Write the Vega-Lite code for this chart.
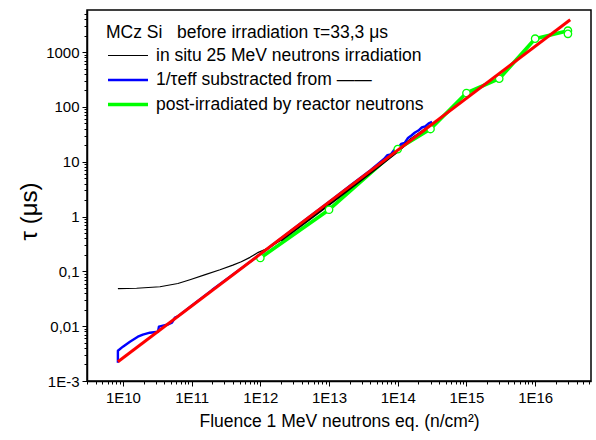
{
  "$schema": "https://vega.github.io/schema/vega-lite/v6.json",
  "width": 504,
  "height": 371,
  "autosize": {"type": "none"},
  "padding": {"left": 87, "top": 10, "right": 5, "bottom": 59},
  "background": "white",
  "config": {
    "font": "Liberation Sans",
    "view": {"stroke": "black", "strokeWidth": 1.5},
    "axis": {
      "labelFont": "Liberation Sans",
      "titleFont": "Liberation Sans",
      "labelColor": "black",
      "titleColor": "black",
      "domainColor": "black",
      "tickColor": "black",
      "domainWidth": 1.5,
      "tickWidth": 1,
      "grid": false,
      "titleFontWeight": "normal"
    }
  },
  "datasets": {
    "curves": [
      {"s": "post-irradiated by reactor neutrons", "f": 1e12, "t": 0.175, "i": 0},
      {"s": "post-irradiated by reactor neutrons", "f": 1e13, "t": 1.33, "i": 1},
      {"s": "post-irradiated by reactor neutrons", "f": 1e14, "t": 17.0, "i": 2},
      {"s": "post-irradiated by reactor neutrons", "f": 3e14, "t": 39.4, "i": 3},
      {"s": "post-irradiated by reactor neutrons", "f": 1e15, "t": 179, "i": 4},
      {"s": "post-irradiated by reactor neutrons", "f": 3e15, "t": 326, "i": 5},
      {"s": "post-irradiated by reactor neutrons", "f": 1e16, "t": 1750, "i": 6},
      {"s": "post-irradiated by reactor neutrons", "f": 3e16, "t": 2450, "i": 7},
      {"s": "post-irradiated by reactor neutrons", "f": 3e16, "t": 2150, "i": 8},

      {"s": "1/τeff substracted from ——", "f": 8.45e9, "t": 0.00216, "i": 0},
      {"s": "1/τeff substracted from ——", "f": 8.45e9, "t": 0.00357, "i": 1},
      {"s": "1/τeff substracted from ——", "f": 1.0e10, "t": 0.00423, "i": 2},
      {"s": "1/τeff substracted from ——", "f": 1.265e10, "t": 0.00521, "i": 3},
      {"s": "1/τeff substracted from ——", "f": 1.65e10, "t": 0.00643, "i": 4},
      {"s": "1/τeff substracted from ——", "f": 1.95e10, "t": 0.0070, "i": 5},
      {"s": "1/τeff substracted from ——", "f": 2.47e10, "t": 0.0076, "i": 6},
      {"s": "1/τeff substracted from ——", "f": 3.24e10, "t": 0.0079, "i": 7},
      {"s": "1/τeff substracted from ——", "f": 3.34e10, "t": 0.0098, "i": 8},
      {"s": "1/τeff substracted from ——", "f": 4.38e10, "t": 0.0106, "i": 9},
      {"s": "1/τeff substracted from ——", "f": 5.18e10, "t": 0.0116, "i": 10},
      {"s": "1/τeff substracted from ——", "f": 5.71e10, "t": 0.0143, "i": 11},
      {"s": "1/τeff substracted from ——", "f": 6.31e10, "t": 0.0151, "i": 12},
      {"s": "1/τeff substracted from ——", "f": 1e11, "t": 0.0236, "i": 13},
      {"s": "1/τeff substracted from ——", "f": 2e11, "t": 0.046, "i": 14},
      {"s": "1/τeff substracted from ——", "f": 3.16e11, "t": 0.070, "i": 15},
      {"s": "1/τeff substracted from ——", "f": 6.31e11, "t": 0.134, "i": 16},
      {"s": "1/τeff substracted from ——", "f": 1e12, "t": 0.205, "i": 17},
      {"s": "1/τeff substracted from ——", "f": 2e12, "t": 0.40, "i": 18},
      {"s": "1/τeff substracted from ——", "f": 3.98e12, "t": 0.77, "i": 19},
      {"s": "1/τeff substracted from ——", "f": 1e13, "t": 1.84, "i": 20},
      {"s": "1/τeff substracted from ——", "f": 2e13, "t": 3.6, "i": 21},
      {"s": "1/τeff substracted from ——", "f": 3.98e13, "t": 6.9, "i": 22},
      {"s": "1/τeff substracted from ——", "f": 6.31e13, "t": 11.2, "i": 23},
      {"s": "1/τeff substracted from ——", "f": 7.08e13, "t": 13.2, "i": 24},
      {"s": "1/τeff substracted from ——", "f": 7.94e13, "t": 13.6, "i": 25},
      {"s": "1/τeff substracted from ——", "f": 8.9e13, "t": 16.5, "i": 26},
      {"s": "1/τeff substracted from ——", "f": 1e14, "t": 17.5, "i": 27},
      {"s": "1/τeff substracted from ——", "f": 1.12e14, "t": 21, "i": 28},
      {"s": "1/τeff substracted from ——", "f": 1.26e14, "t": 22, "i": 29},
      {"s": "1/τeff substracted from ——", "f": 1.41e14, "t": 27, "i": 30},
      {"s": "1/τeff substracted from ——", "f": 1.58e14, "t": 30, "i": 31},
      {"s": "1/τeff substracted from ——", "f": 1.78e14, "t": 34, "i": 32},
      {"s": "1/τeff substracted from ——", "f": 2e14, "t": 37, "i": 33},
      {"s": "1/τeff substracted from ——", "f": 2.24e14, "t": 42, "i": 34},
      {"s": "1/τeff substracted from ——", "f": 2.51e14, "t": 44, "i": 35},
      {"s": "1/τeff substracted from ——", "f": 2.82e14, "t": 50, "i": 36},
      {"s": "1/τeff substracted from ——", "f": 3.16e14, "t": 53, "i": 37},

      {"s": "in situ 25 MeV neutrons irradiation", "f": 8.45e9, "t": 0.0482, "i": 0},
      {"s": "in situ 25 MeV neutrons irradiation", "f": 1.58e10, "t": 0.0492, "i": 1},
      {"s": "in situ 25 MeV neutrons irradiation", "f": 3.46e10, "t": 0.0524, "i": 2},
      {"s": "in situ 25 MeV neutrons irradiation", "f": 6.31e10, "t": 0.060, "i": 3},
      {"s": "in situ 25 MeV neutrons irradiation", "f": 9.46e10, "t": 0.0703, "i": 4},
      {"s": "in situ 25 MeV neutrons irradiation", "f": 1.58e11, "t": 0.087, "i": 5},
      {"s": "in situ 25 MeV neutrons irradiation", "f": 2.59e11, "t": 0.107, "i": 6},
      {"s": "in situ 25 MeV neutrons irradiation", "f": 3.98e11, "t": 0.130, "i": 7},
      {"s": "in situ 25 MeV neutrons irradiation", "f": 5.28e11, "t": 0.150, "i": 8},
      {"s": "in situ 25 MeV neutrons irradiation", "f": 7.08e11, "t": 0.180, "i": 9},
      {"s": "in situ 25 MeV neutrons irradiation", "f": 9.35e11, "t": 0.222, "i": 10},
      {"s": "in situ 25 MeV neutrons irradiation", "f": 1.26e12, "t": 0.26, "i": 11},
      {"s": "in situ 25 MeV neutrons irradiation", "f": 2e12, "t": 0.37, "i": 12},
      {"s": "in situ 25 MeV neutrons irradiation", "f": 5.01e12, "t": 0.86, "i": 13},
      {"s": "in situ 25 MeV neutrons irradiation", "f": 1e13, "t": 1.65, "i": 14},
      {"s": "in situ 25 MeV neutrons irradiation", "f": 2.51e13, "t": 4.0, "i": 15},
      {"s": "in situ 25 MeV neutrons irradiation", "f": 5.01e13, "t": 7.8, "i": 16},
      {"s": "in situ 25 MeV neutrons irradiation", "f": 1e14, "t": 15.5, "i": 17},
      {"s": "in situ 25 MeV neutrons irradiation", "f": 1.58e14, "t": 26, "i": 18},
      {"s": "in situ 25 MeV neutrons irradiation", "f": 2.24e14, "t": 35, "i": 19},
      {"s": "in situ 25 MeV neutrons irradiation", "f": 2.95e14, "t": 45, "i": 20}
    ],
    "fit": [
      {"f": 8.45e9, "t": 0.00225},
      {"f": 3.24e16, "t": 3880}
    ]
  },
  "resolve": {"axis": {"x": "independent", "y": "independent"}},
  "layer": [
    {
      "data": {"name": "curves"},
      "transform": [{"filter": "datum.s === 'post-irradiated by reactor neutrons'"}],
      "mark": {"type": "line", "strokeCap": "butt", "strokeJoin": "round"},
      "encoding": {
        "x": {
          "field": "f", "type": "quantitative",
          "scale": {"type": "log", "domain": [3.0e9, 6.5e16], "nice": false},
          "axis": {
            "orient": "bottom",
            "values": [1e10, 1e11, 1e12, 1e13, 1e14, 1e15, 1e16],
            "labelExpr": "'1E' + format(log(datum.value)/LN10, '.0f')",
            "labelFontSize": 15,
            "labelPadding": 4,
            "tickSize": 5,
            "title": "Fluence 1 MeV neutrons eq. (n/cm²)",
            "titleFontSize": 17.5,
            "titlePadding": 7
          }
        },
        "y": {
          "field": "t", "type": "quantitative",
          "scale": {"type": "log", "domain": [0.001, 5840], "nice": false},
          "axis": {
            "orient": "left",
            "values": [0.001, 0.01, 0.1, 1, 10, 100, 1000],
            "labelExpr": "datum.value < 0.005 ? '1E-3' : datum.value < 0.05 ? '0,01' : datum.value < 0.5 ? '0,1' : format(datum.value, 'd')",
            "labelFontSize": 15,
            "labelPadding": 3,
            "tickSize": 5,
            "title": "τ (μs)",
            "titleFontSize": 24,
            "titlePadding": 4,
            "titleY": 201
          }
        },
        "order": {"field": "i", "type": "quantitative"},
        "color": {
          "field": "s", "type": "nominal",
          "scale": {
            "domain": ["in situ 25 MeV neutrons irradiation", "1/τeff substracted from ——", "post-irradiated by reactor neutrons"],
            "range": ["#000000", "#0000ff", "#00ff00"]
          },
          "legend": {
            "orient": "none",
            "legendX": 19,
            "legendY": 14,
            "title": "MCz Si\u00a0\u00a0 before irradiation τ=33,3 μs",
            "titleFont": "Liberation Sans",
            "titleFontSize": 17.5,
            "titleFontWeight": "normal",
            "titleColor": "black",
            "titleLimit": 500,
            "titlePadding": 3,
            "labelFont": "Liberation Sans",
            "labelFontSize": 17.5,
            "labelColor": "black",
            "labelLimit": 500,
            "labelOffset": 26,
            "symbolType": "M-1,0H3",
            "symbolSize": 400,
            "rowPadding": 4,
            "padding": 0
          }
        },
        "strokeWidth": {
          "field": "s", "type": "nominal",
          "scale": {
            "domain": ["in situ 25 MeV neutrons irradiation", "1/τeff substracted from ——", "post-irradiated by reactor neutrons"],
            "range": [1.2, 3.6, 3.6]
          }
        }
      }
    },
    {
      "data": {"name": "curves"},
      "transform": [{"filter": "datum.s === '1/τeff substracted from ——'"}],
      "mark": {"type": "line", "strokeJoin": "round"},
      "encoding": {
        "x": {
          "field": "f", "type": "quantitative",
          "axis": {
            "orient": "bottom",
            "values": [3e9, 4e9, 5e9, 6e9, 7e9, 8e9, 9e9, 2e10, 3e10, 4e10, 5e10, 6e10, 7e10, 8e10, 9e10, 2e11, 3e11, 4e11, 5e11, 6e11, 7e11, 8e11, 9e11, 2e12, 3e12, 4e12, 5e12, 6e12, 7e12, 8e12, 9e12, 2e13, 3e13, 4e13, 5e13, 6e13, 7e13, 8e13, 9e13, 2e14, 3e14, 4e14, 5e14, 6e14, 7e14, 8e14, 9e14, 2e15, 3e15, 4e15, 5e15, 6e15, 7e15, 8e15, 9e15, 2e16, 3e16, 4e16, 5e16, 6e16],
            "labels": false,
            "domain": false,
            "tickSize": 3,
            "title": null
          }
        },
        "y": {
          "field": "t", "type": "quantitative",
          "axis": {
            "orient": "left",
            "values": [0.002, 0.003, 0.004, 0.005, 0.006, 0.007, 0.008, 0.009, 0.02, 0.03, 0.04, 0.05, 0.06, 0.07, 0.08, 0.09, 0.2, 0.3, 0.4, 0.5, 0.6, 0.7, 0.8, 0.9, 2, 3, 4, 5, 6, 7, 8, 9, 20, 30, 40, 50, 60, 70, 80, 90, 200, 300, 400, 500, 600, 700, 800, 900, 2000, 3000, 4000, 5000],
            "labels": false,
            "domain": false,
            "tickSize": 3,
            "title": null
          }
        },
        "order": {"field": "i", "type": "quantitative"},
        "color": {"field": "s", "type": "nominal"},
        "strokeWidth": {"field": "s", "type": "nominal"}
      }
    },
    {
      "data": {"name": "curves"},
      "transform": [{"filter": "datum.s === 'in situ 25 MeV neutrons irradiation'"}],
      "mark": {"type": "line", "strokeJoin": "round"},
      "encoding": {
        "x": {"field": "f", "type": "quantitative", "axis": null},
        "y": {"field": "t", "type": "quantitative", "axis": null},
        "order": {"field": "i", "type": "quantitative"},
        "color": {"field": "s", "type": "nominal"},
        "strokeWidth": {"field": "s", "type": "nominal"}
      }
    },
    {
      "data": {"name": "curves"},
      "transform": [{"filter": "datum.s === 'in situ 25 MeV neutrons irradiation' && datum.f >= 1.5e12"}],
      "mark": {"type": "line", "color": "black", "strokeWidth": 2.5, "strokeJoin": "round"},
      "encoding": {
        "x": {"field": "f", "type": "quantitative", "axis": null},
        "y": {"field": "t", "type": "quantitative", "axis": null},
        "order": {"field": "i", "type": "quantitative"}
      }
    },
    {
      "data": {"name": "curves"},
      "transform": [{"filter": "datum.s === 'post-irradiated by reactor neutrons'"}],
      "mark": {"type": "point", "shape": "circle", "fill": "white", "stroke": "#00ff00", "strokeWidth": 1.3, "size": 55, "opacity": 1, "fillOpacity": 1},
      "encoding": {
        "x": {"field": "f", "type": "quantitative", "axis": null},
        "y": {"field": "t", "type": "quantitative", "axis": null}
      }
    },
    {
      "data": {"name": "fit"},
      "mark": {"type": "line", "color": "#ff0000", "strokeWidth": 3},
      "encoding": {
        "x": {"field": "f", "type": "quantitative", "axis": null},
        "y": {"field": "t", "type": "quantitative", "axis": null}
      }
    }
  ]
}
